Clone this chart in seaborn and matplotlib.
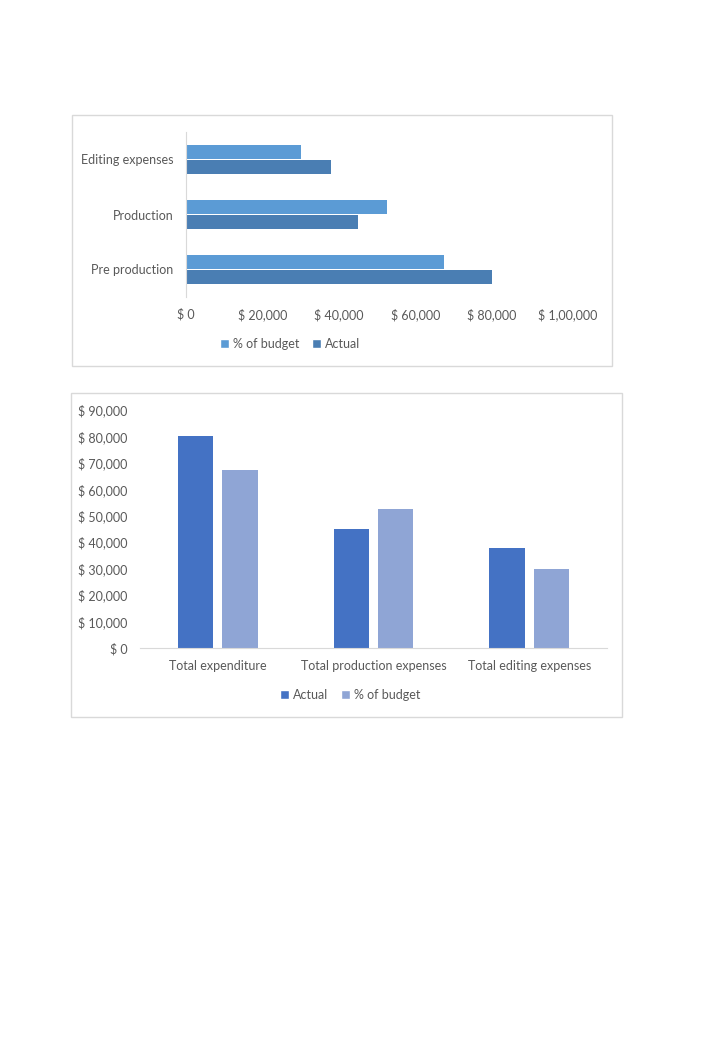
import pandas as pd
import matplotlib
matplotlib.use('Agg')
import matplotlib.pyplot as plt
import seaborn as sns
from matplotlib.patches import Patch, Rectangle

# data - top chart (horizontal)
h_categories = ['Editing expenses', 'Production', 'Pre production']
h_budget = [30000, 52500, 67500]
h_actual = [38000, 45000, 80000]
h_ticks = [0, 20000, 40000, 60000, 80000, 100000]
h_tick_labels = ['$ 0', '$ 20,000', '$ 40,000', '$ 60,000', '$ 80,000', '$ 1,00,000']

# data - bottom chart (vertical)
v_categories = ['Total expenditure', 'Total production expenses', 'Total editing expenses']
v_actual = [80000, 45000, 38000]
v_budget = [67500, 52500, 30000]
v_ticks = [0, 10000, 20000, 30000, 40000, 50000, 60000, 70000, 80000, 90000]
v_tick_labels = ['$ 0', '$ 10,000', '$ 20,000', '$ 30,000', '$ 40,000',
                 '$ 50,000', '$ 60,000', '$ 70,000', '$ 80,000', '$ 90,000']

sns.set_style('white')
plt.rcParams['font.family'] = ['Lato', 'DejaVu Sans']

text_color = '#595959'
border_color = '#D9D9D9'
top_colors = {'% of budget': '#5B9BD5', 'Actual': '#4A7EB3'}
bottom_colors = {'Actual': '#4472C4', '% of budget': '#8FA5D5'}

W, H = 720, 1040
fig = plt.figure(figsize=(7.2, 10.4), dpi=100)
fig.patch.set_facecolor('white')


def fig_rect(x0, y0, x1, y1):
    # pixel box (top-left origin) -> figure fraction [l, b, w, h]
    return [x0 / W, 1 - y1 / H, (x1 - x0) / W, (y1 - y0) / H]


# chart frames
for x0, y0, x1, y1 in [(72, 115, 612, 366), (71, 393, 622, 717)]:
    l, b, w, h = fig_rect(x0, y0, x1, y1)
    fig.patches.append(Rectangle((l, b), w, h, transform=fig.transFigure,
                                 facecolor='none', edgecolor=border_color, lw=1))

# ---------- top chart ----------
df_h = pd.DataFrame({
    'category': h_categories * 2,
    'series': ['% of budget'] * 3 + ['Actual'] * 3,
    'value': h_budget + h_actual,
})
ax1 = fig.add_axes(fig_rect(186, 132, 568, 297))
sns.barplot(data=df_h, x='value', y='category', hue='series', orient='h',
            order=h_categories, hue_order=['% of budget', 'Actual'],
            palette=top_colors, saturation=1, width=0.53, linewidth=0,
            legend=False, ax=ax1)
ax1.set_xlim(0, 100000)
ax1.set_xticks(h_ticks)
ax1.set_xticklabels(h_tick_labels)
ax1.set_xlabel('')
ax1.set_ylabel('')
ax1.tick_params(axis='both', length=0, labelsize=9, colors=text_color)
ax1.tick_params(axis='x', pad=8)
ax1.tick_params(axis='y', pad=9)
for name, spine in ax1.spines.items():
    spine.set_visible(name == 'left')
ax1.spines['left'].set_color(border_color)
ax1.grid(False)

fig.legend(handles=[Patch(facecolor=top_colors['% of budget'], label='% of budget'),
                    Patch(facecolor=top_colors['Actual'], label='Actual')],
           loc='center', bbox_to_anchor=(290 / W, 1 - 344 / H), ncol=2,
           frameon=False, fontsize=9, labelcolor=text_color,
           handlelength=0.75, handleheight=0.75, handletextpad=0.3, columnspacing=1.0)

# ---------- bottom chart ----------
df_v = pd.DataFrame({
    'category': v_categories * 2,
    'series': ['Actual'] * 3 + ['% of budget'] * 3,
    'value': v_actual + v_budget,
})
ax2 = fig.add_axes(fig_rect(140, 410, 607, 648))
sns.barplot(data=df_v, x='category', y='value', hue='series',
            order=v_categories, hue_order=['Actual', '% of budget'],
            palette=bottom_colors, saturation=1, width=0.57, gap=0.2,
            linewidth=0, legend=False, ax=ax2)
ax2.set_ylim(0, 90000)
ax2.set_yticks(v_ticks)
ax2.set_yticklabels(v_tick_labels)
ax2.set_xlabel('')
ax2.set_ylabel('')
ax2.tick_params(axis='both', length=0, labelsize=9, colors=text_color)
ax2.tick_params(axis='x', pad=9)
ax2.tick_params(axis='y', pad=9)
for name, spine in ax2.spines.items():
    spine.set_visible(name == 'bottom')
ax2.spines['bottom'].set_color(border_color)
ax2.grid(False)

fig.legend(handles=[Patch(facecolor=bottom_colors['Actual'], label='Actual'),
                    Patch(facecolor=bottom_colors['% of budget'], label='% of budget')],
           loc='center', bbox_to_anchor=(350 / W, 1 - 695 / H), ncol=2,
           frameon=False, fontsize=9, labelcolor=text_color,
           handlelength=0.75, handleheight=0.75, handletextpad=0.3, columnspacing=1.0)

fig.savefig('out.png', dpi=100, facecolor='white')
